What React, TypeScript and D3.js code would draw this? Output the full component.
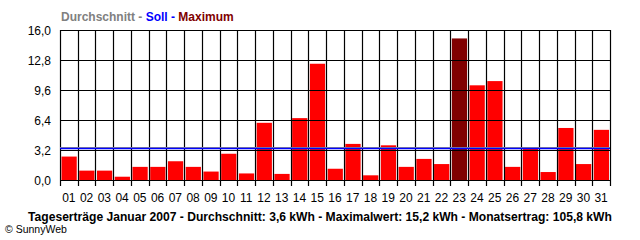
import React from "react";
import * as d3 from "d3";

const days = ["01","02","03","04","05","06","07","08","09","10","11","12","13","14","15","16","17","18","19","20","21","22","23","24","25","26","27","28","29","30","31"];
const yields = [2.5,1.0,1.0,0.35,1.4,1.4,2.0,1.4,0.9,2.8,0.7,6.1,0.65,6.6,12.4,1.2,3.85,0.5,3.7,1.4,2.25,1.7,15.1,10.1,10.55,1.4,3.4,0.85,5.55,1.7,5.35];
const yTicks = [0, 3.2, 6.4, 9.6, 12.8, 16.0];
const averageValue = 3.45;
const targetValue = 3.35;
const footer = "Tageserträge Januar 2007 - Durchschnitt: 3,6 kWh - Maximalwert: 15,2 kWh - Monatsertrag: 105,8 kWh";

const W = 640, H = 240;
const left = 60, right = 610, top = 30, bottom = 180;
const FONT = "'Liberation Sans', Arial, sans-serif";

export default function App() {
  const x = d3.scaleBand<string>().domain(days).range([left, right]).paddingInner(0).paddingOuter(0);
  const y = d3.scaleLinear().domain([0, 16]).range([bottom, top]);
  const maxV = d3.max(yields) as number;
  const bw = x.bandwidth();
  const fmt = (v: number) => v.toFixed(1).replace(".", ",");
  return (
    <svg width={W} height={H} style={{ position: "absolute", left: 0, top: 0, background: "#fff" }} fontFamily={FONT}>
      <rect x={0} y={0} width={W} height={H} fill="#fff" />
      {/* title legend */}
      <text x={61} y={21} fontSize={12} fontWeight="bold">
        <tspan fill="#808080">Durchschnitt - </tspan>
        <tspan fill="#0000ff">Soll - </tspan>
        <tspan fill="#800000">Maximum</tspan>
      </text>
      {/* bars */}
      {yields.map((v, i) => (
        <rect key={i} x={(x(days[i]) as number) + 1.5} y={y(v)} width={bw - 2.5} height={bottom - y(v)}
          fill={v === maxV ? "#800000" : "#ff0000"} />
      ))}
      {/* grid */}
      {yTicks.map((t, i) => (
        <line key={"h" + i} x1={left} x2={right} y1={Math.round(y(t)) + 0.5} y2={Math.round(y(t)) + 0.5} stroke="#000" strokeWidth={1.2} />
      ))}
      {days.map((d, i) => (
        <line key={"v" + i} x1={Math.round(x(d) as number) + 0.5} x2={Math.round(x(d) as number) + 0.5} y1={top} y2={bottom + 6} stroke="#000" strokeWidth={1.2} />
      ))}
      <line x1={right + 0.5} x2={right + 0.5} y1={top} y2={bottom + 6} stroke="#000" strokeWidth={1.2} />
      {/* average / target lines */}
      <line x1={left} x2={right} y1={y(averageValue)} y2={y(averageValue)} stroke="#909090" strokeWidth={1.2} />
      <line x1={left} x2={right} y1={y(targetValue)} y2={y(targetValue)} stroke="#0000ff" strokeWidth={1.5} />
      {/* y labels */}
      {yTicks.map((t, i) => (
        <text key={"yl" + i} x={51} y={y(t) + 4.5} fontSize={12} textAnchor="end" fill="#000">{fmt(t)}</text>
      ))}
      {/* x labels */}
      {days.map((d, i) => (
        <text key={"xl" + i} x={(x(d) as number) + bw / 2} y={202} fontSize={12} textAnchor="middle" fill="#000">{d}</text>
      ))}
      <text x={320} y={220.5} fontSize={12.1} fontWeight="bold" textAnchor="middle" fill="#000">{footer}</text>
      <text x={5} y={233} fontSize={10.5} fill="#000">© SunnyWeb</text>
    </svg>
  );
}
